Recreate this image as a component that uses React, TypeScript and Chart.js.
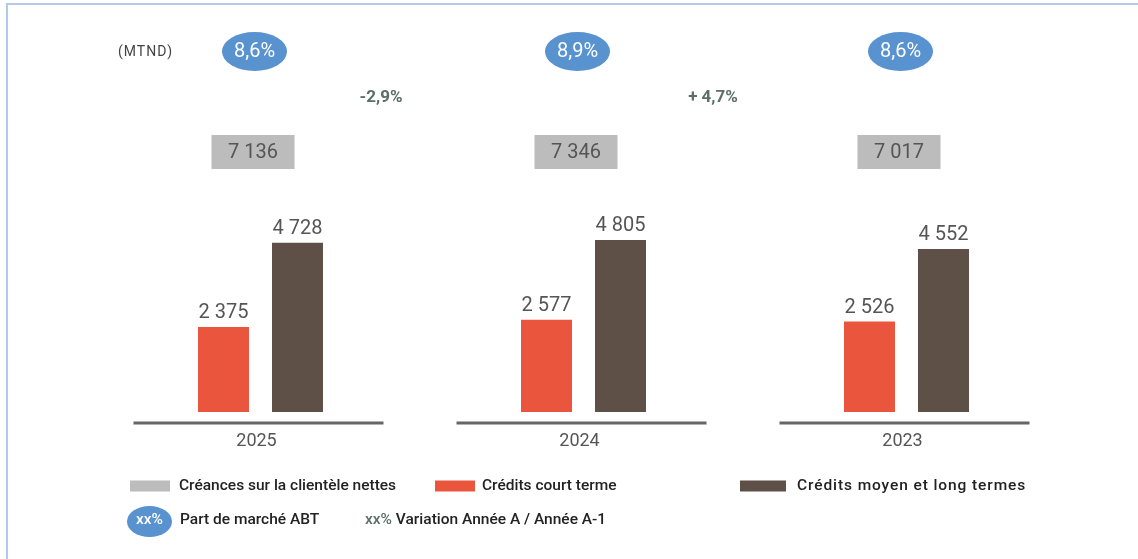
import React, { useEffect, useRef } from "react";
import { Chart, registerables } from "chart.js";

Chart.register(...registerables);

const years = ["2025", "2024", "2023"];
const creditsCourtTerme = [2375, 2577, 2526];
const creditsMoyenLongTermes = [4728, 4805, 4552];
const creancesNettes = ["7 136", "7 346", "7 017"];
const partMarche = ["8,6%", "8,9%", "8,6%"];
const variations = ["-2,9%", "+ 4,7%"];
const unitLabel = "(MTND)";
const legendLabels = [
  "Créances sur la clientèle nettes",
  "Crédits court terme",
  "Crédits moyen et long termes",
  "Part de marché ABT",
  "Variation Année A / Année A-1",
];

const RED = "#e9563d";
const BROWN = "#5e4f47";
const GREY = "#bcbcbc";
const BLUE = "#5892cf";
const GREEN = "#5b6f67";
const TEXT = "#555555";
const FONT = "Roboto, 'DejaVu Sans', sans-serif";

const fmt = (v: number) => {
  const s = String(v);
  return s.length > 3 ? s.slice(0, s.length - 3) + " " + s.slice(-3) : s;
};

const overlayPlugin = {
  id: "overlay",
  afterDatasetsDraw(chart: any) {
    const ctx = chart.ctx as CanvasRenderingContext2D;
    const xs = chart.scales.x;
    ctx.save();

    // frame
    ctx.strokeStyle = "#b5c9e9";
    ctx.lineWidth = 2;
    ctx.beginPath();
    ctx.moveTo(7, 559);
    ctx.lineTo(7, 4);
    ctx.lineTo(1138, 4);
    ctx.stroke();

    // value labels above bars
    ctx.fillStyle = TEXT;
    ctx.font = `20px ${FONT}`;
    ctx.textAlign = "center";
    ctx.textBaseline = "bottom";
    chart.data.datasets.forEach((ds: any, di: number) => {
      const meta = chart.getDatasetMeta(di);
      meta.data.forEach((bar: any, i: number) => {
        ctx.fillText(fmt(ds.data[i]), bar.x, bar.y - 4);
      });
    });

    years.forEach((y, i) => {
      const cx = xs.getPixelForValue(i);
      // baseline segment
      ctx.strokeStyle = "#666666";
      ctx.lineWidth = 3;
      ctx.beginPath();
      ctx.moveTo(cx - 127, 423);
      ctx.lineTo(cx + 123, 423);
      ctx.stroke();
      // year label
      ctx.fillStyle = TEXT;
      ctx.font = `18px ${FONT}`;
      ctx.textBaseline = "middle";
      ctx.textAlign = "center";
      ctx.fillText(y, cx - 4, 441);
      // grey box
      const bx = cx - 7.5;
      ctx.fillStyle = GREY;
      ctx.fillRect(bx - 41.5, 135, 83, 34);
      ctx.fillStyle = TEXT;
      ctx.font = `20px ${FONT}`;
      ctx.fillText(creancesNettes[i], bx, 152.5);
      // ellipse
      const ex = cx - 6;
      ctx.fillStyle = BLUE;
      ctx.beginPath();
      ctx.ellipse(ex, 51.5, 32.5, 19.5, 0, 0, Math.PI * 2);
      ctx.fill();
      ctx.fillStyle = "#ffffff";
      ctx.font = `20px ${FONT}`;
      ctx.fillText(partMarche[i], ex, 52);
    });

    // variations between groups
    ctx.fillStyle = GREEN;
    ctx.font = `bold 17px ${FONT}`;
    const varOffsets = [-41, -32];
    variations.forEach((v, i) => {
      const a = xs.getPixelForValue(i);
      const b = xs.getPixelForValue(i + 1);
      ctx.fillText(v, (a + b) / 2 + varOffsets[i], 98);
    });

    // unit
    ctx.fillStyle = "#444444";
    ctx.font = `14px ${FONT}`;
    (ctx as any).letterSpacing = "1px";
    ctx.textAlign = "left";
    ctx.fillText(unitLabel, 118, 52);
    (ctx as any).letterSpacing = "0px";

    // legend
    ctx.textAlign = "left";
    ctx.textBaseline = "middle";
    const row1 = 486;
    const sw = [
      { x: 130, w: 40, c: GREY, tx: 179, label: legendLabels[0], ls: 0 },
      { x: 435, w: 40, c: RED, tx: 482, label: legendLabels[1], ls: 0 },
      { x: 740, w: 46, c: BROWN, tx: 797, label: legendLabels[2], ls: 0.9 },
    ];
    sw.forEach((s) => {
      ctx.fillStyle = s.c;
      ctx.fillRect(s.x, row1 - 5.5, s.w, 11);
      ctx.fillStyle = "#222222";
      ctx.font = `500 15.5px ${FONT}`;
      (ctx as any).letterSpacing = `${s.ls}px`;
      ctx.fillText(s.label, s.tx, row1);
    });
    (ctx as any).letterSpacing = "0px";
    ctx.font = `500 15.5px ${FONT}`;
    const row2 = 520;
    ctx.fillStyle = BLUE;
    ctx.beginPath();
    ctx.ellipse(149.5, 521.5, 22.5, 15.5, 0, 0, Math.PI * 2);
    ctx.fill();
    ctx.fillStyle = "#ffffff";
    ctx.textAlign = "center";
    ctx.fillText("xx%", 149.5, row2);
    ctx.textAlign = "left";
    ctx.fillStyle = "#222222";
    ctx.fillText(legendLabels[3], 180, row2);
    ctx.fillStyle = GREEN;
    ctx.fillText("xx%", 365, row2);
    const w = ctx.measureText("xx% ").width;
    ctx.fillStyle = "#222222";
    ctx.fillText(legendLabels[4], 365 + w, row2);

    ctx.restore();
  },
};

export default function App() {
  const ref = useRef<HTMLCanvasElement>(null);
  useEffect(() => {
    if (!ref.current) return;
    const chart = new Chart(ref.current, {
      type: "bar",
      data: {
        labels: years,
        datasets: [
          {
            label: legendLabels[1],
            data: creditsCourtTerme,
            backgroundColor: RED,
          },
          {
            label: legendLabels[2],
            data: creditsMoyenLongTermes,
            backgroundColor: BROWN,
          },
        ],
      },
      options: {
        responsive: false,
        animation: false,
        datasets: { bar: { categoryPercentage: 0.4582, barPercentage: 0.689 } },
        layout: { padding: { left: 99, right: 70, top: 0, bottom: 147 } },
        plugins: { legend: { display: false }, tooltip: { enabled: false } },
        scales: {
          x: { display: false },
          y: { display: false, min: 0, max: 11508 },
        },
      },
      plugins: [overlayPlugin],
    });
    return () => chart.destroy();
  }, []);
  return (
    <div style={{ position: "absolute", left: 0, top: 0, width: 1138, height: 559, background: "#fff" }}>
      <canvas ref={ref} width={1138} height={559} style={{ width: 1138, height: 559 }} />
    </div>
  );
}
